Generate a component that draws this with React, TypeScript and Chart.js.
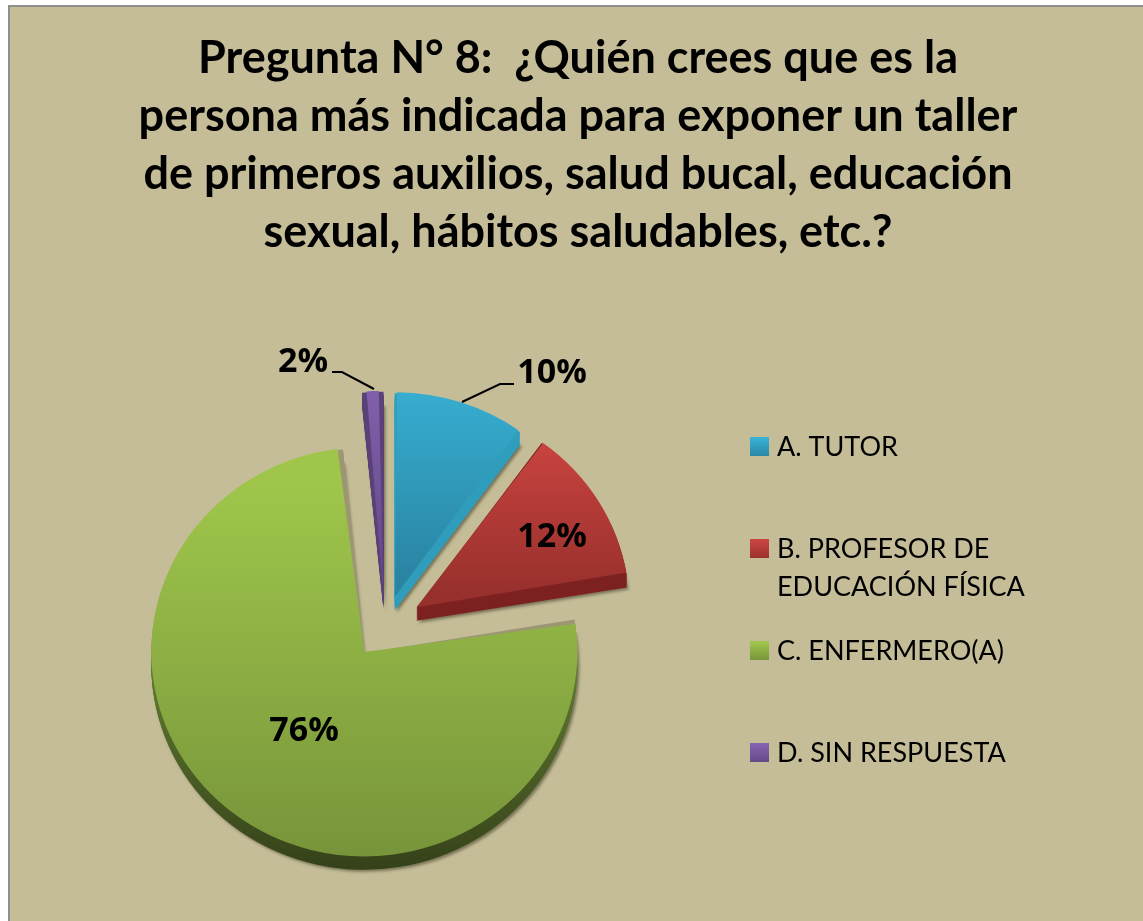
import React, { useEffect, useRef } from "react";
import { Chart, registerables } from "chart.js";

Chart.register(...registerables);

const categories = ["A. TUTOR", "B. PROFESOR DE EDUCACIÓN FÍSICA", "C. ENFERMERO(A)", "D. SIN RESPUESTA"];
const values = [10, 12.4, 76, 1.6];
const legendLines = [["A. TUTOR"], ["B. PROFESOR DE", "EDUCACIÓN FÍSICA"], ["C. ENFERMERO(A)"], ["D. SIN RESPUESTA"]];
const titleLines = [
  "Pregunta N° 8:  ¿Quién crees que es la",
  "persona más indicada para exponer un taller",
  "de primeros auxilios, salud bucal, educación",
  "sexual, hábitos saludables, etc.?",
];
const explode = [128, 148, 136, 128];
const gradTop = ["#38B2D6", "#CB4440", "#9FC64B", "#8562B0"];
const gradBottom = ["#2A84A2", "#98302D", "#76923A", "#644886"];
const rimColors = ["#2F9DBB", "#7D2220", "", "#5A4178"];
const gradRange = [[390, 607], [445, 610], [450, 858], [388, 605]];
const labelPos = [[552, 373], [552, 537], [304, 731], [303, 362]];
const leaders = [
  [[462, 402], [500, 384], [514, 384]],
  [],
  [],
  [[332, 372], [342, 372], [374, 389]],
];
const legendY = [447, 549, 651, 753];
const RIM = 14;
const RADIUS = 213;
const SQUASH = 0.96;

const slicePath = (ctx: any, a: any, off: number, dy: number) => {
  const mid = (a.startAngle + a.endAngle) / 2;
  const x = a.x + Math.cos(mid) * (off / 4);
  const y = a.y + Math.sin(mid) * (off / 4) + dy;
  ctx.beginPath();
  ctx.moveTo(x, y);
  ctx.arc(x, y, RADIUS, a.startAngle, a.endAngle);
  ctx.closePath();
};

const rimPlugin = {
  id: "rim",
  beforeDatasetsDraw(chart: any) {
    const { ctx } = chart;
    const arcs = chart.getDatasetMeta(0).data;
    ctx.save();
    // the reference pie is tilted: flatten it a little
    ctx.translate(0, arcs[0].y);
    ctx.scale(1, SQUASH);
    ctx.translate(0, -arcs[0].y);
    arcs.forEach((a: any, i: number) => {
      // Chart.js enlarges an offset arc by offset/4 * fix; cancel it so that all slices share one radius
      const fix = 1 - Math.sin(Math.min(Math.PI, a.circumference || 0));
      a.outerRadius = RADIUS - (explode[i] / 4) * fix;
      ctx.save();
      let rim: any = rimColors[i];
      if (!rim) {
        rim = ctx.createLinearGradient(0, 440, 0, 890);
        rim.addColorStop(0, "#9C9772");
        rim.addColorStop(0.46, "#9C9772");
        rim.addColorStop(0.52, "#5F7A30");
        rim.addColorStop(1, "#333E18");
      }
      ctx.fillStyle = rim;
      ctx.shadowColor = "rgba(60,55,35,0.55)";
      ctx.shadowBlur = 3;
      ctx.shadowOffsetX = 2;
      ctx.shadowOffsetY = 2;
      slicePath(ctx, a, explode[i], RIM);
      ctx.fill();
      ctx.shadowColor = "transparent";
      for (let d = RIM - 1; d > 0; d--) {
        slicePath(ctx, a, explode[i], d);
        ctx.fill();
      }
      ctx.restore();
    });
  },
  afterDatasetsDraw(chart: any) {
    chart.ctx.restore();
  },
};

const textPlugin = {
  id: "texts",
  afterDraw(chart: any) {
    const { ctx } = chart;
    ctx.save();
    ctx.fillStyle = "#000";
    ctx.textBaseline = "middle";

    ctx.textAlign = "center";
    ctx.font = "bold 45px Lato";
    titleLines.forEach((t, i) => ctx.fillText(t, 578, 58 + i * 58));

    ctx.font = "bold 34px 'Open Sans'";
    values.forEach((v, i) => ctx.fillText(`${Math.round(v)}%`, labelPos[i][0], labelPos[i][1]));

    ctx.strokeStyle = "#000";
    ctx.lineWidth = 2;
    leaders.forEach((pts) => {
      if (!pts.length) return;
      ctx.beginPath();
      pts.forEach((p, k) => (k ? ctx.lineTo(p[0], p[1]) : ctx.moveTo(p[0], p[1])));
      ctx.stroke();
    });

    ctx.textAlign = "left";
    ctx.font = "27px Lato";
    categories.forEach((_, i) => {
      const y = legendY[i];
      const g = ctx.createLinearGradient(0, y - 9, 0, y + 10);
      g.addColorStop(0, gradTop[i]);
      g.addColorStop(1, gradBottom[i]);
      ctx.fillStyle = g;
      ctx.fillRect(750, y - 10, 19, 19);
      ctx.fillStyle = "#000";
      legendLines[i].forEach((l, k) => ctx.fillText(l, 777, y + k * 38));
    });
    ctx.restore();
  },
};

export default function App() {
  const ref = useRef<HTMLCanvasElement>(null);
  useEffect(() => {
    const canvas = ref.current!;
    const ctx = canvas.getContext("2d")!;
    const fills = values.map((_, i) => {
      const g = ctx.createLinearGradient(0, gradRange[i][0], 0, gradRange[i][1]);
      g.addColorStop(0, gradTop[i]);
      g.addColorStop(1, gradBottom[i]);
      return g;
    });
    const chart = new Chart(canvas, {
      type: "pie",
      data: {
        labels: categories,
        datasets: [{ data: values, backgroundColor: fills, borderWidth: 0, offset: explode }],
      },
      options: {
        responsive: false,
        animation: false,
        layout: { padding: { left: 98, right: 471, top: 339, bottom: 8 } },
        plugins: { legend: { display: false }, title: { display: false }, tooltip: { enabled: false } },
      },
      plugins: [rimPlugin, textPlugin],
    } as any);
    return () => chart.destroy();
  }, []);
  return (
    <div style={{ position: "absolute", left: 0, top: 0, width: 1143, height: 921, overflow: "hidden", background: "#fff" }}>
      <div style={{ position: "absolute", left: 8, top: 5, right: 0, bottom: 0, background: "#C4BD97", borderLeft: "2px solid #8E8E8E", borderTop: "2px solid #8E8E8E" }} />
      <canvas ref={ref} width={1143} height={921} style={{ position: "absolute", left: 0, top: 0, display: "block" }} />
    </div>
  );
}
